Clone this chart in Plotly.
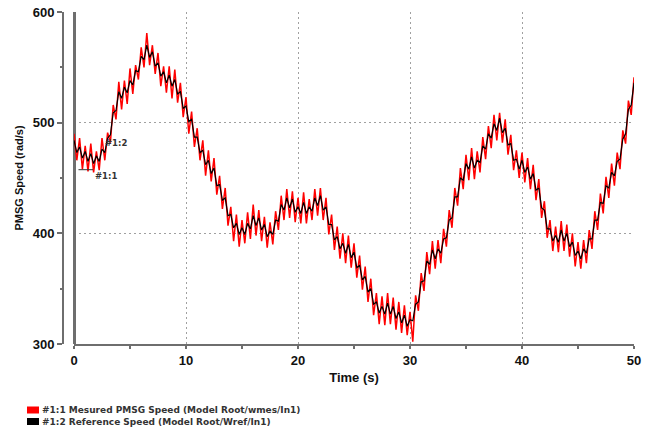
import numpy as np
import plotly.graph_objects as go

# Time grid (s), 0.25 s sampling
time_s = np.linspace(0, 50, 201)

# Reference speed (black), rad/s
ref_speed = [
    484, 473, 478, 468, 474, 465, 472, 463, 470, 465, 476, 473, 486, 489, 509, 511,
    528, 522, 532, 527, 538, 534, 547, 546, 560, 557, 570, 559, 564, 551, 554, 542,
    546, 536, 543, 533, 539, 526, 528, 513, 515, 501, 503, 487, 487, 473, 475, 462,
    466, 454, 459, 443, 444, 430, 432, 416, 417, 405, 409, 399, 405, 399, 409, 404,
    416, 407, 414, 403, 408, 397, 402, 399, 412, 411, 426, 421, 432, 423, 431, 419,
    424, 418, 428, 418, 424, 420, 432, 425, 434, 421, 424, 408, 408, 394, 397, 386,
    391, 382, 390, 378, 383, 369, 371, 358, 361, 347, 350, 336, 338, 328, 334, 327,
    337, 327, 334, 323, 329, 319, 326, 316, 322, 321, 336, 338, 356, 357, 375, 372,
    385, 377, 386, 382, 395, 396, 412, 414, 433, 433, 450, 448, 463, 458, 469, 459,
    466, 464, 479, 476, 490, 486, 499, 493, 504, 491, 495, 480, 481, 466, 467, 458,
    466, 455, 460, 449, 454, 439, 441, 423, 421, 404, 404, 393, 398, 392, 403, 393,
    400, 388, 392, 380, 384, 377, 386, 382, 395, 395, 412, 412, 428, 427, 443, 441,
    455, 452, 465, 467, 485, 490, 512, 516, 536,
]

# Measured PMSG speed (red), rad/s
meas_speed = [
    490, 466, 486, 458, 479, 456, 481, 455, 474, 457, 486, 466, 491, 482, 516, 503,
    537, 512, 538, 517, 549, 526, 552, 539, 568, 550, 581, 552, 570, 544, 563, 533,
    551, 527, 551, 522, 548, 518, 536, 505, 523, 490, 510, 478, 495, 466, 484, 452,
    475, 447, 468, 435, 452, 422, 441, 407, 424, 393, 417, 388, 412, 391, 419, 395,
    426, 398, 421, 393, 415, 387, 410, 390, 420, 403, 434, 412, 440, 414, 438, 410,
    432, 409, 437, 409, 431, 412, 440, 416, 441, 412, 432, 399, 417, 385, 406, 377,
    400, 373, 398, 369, 391, 360, 380, 349, 370, 338, 359, 326, 346, 318, 343, 317,
    346, 318, 342, 313, 338, 310, 335, 308, 329, 302, 344, 330, 364, 348, 383, 363,
    393, 368, 394, 373, 404, 388, 421, 405, 441, 425, 459, 440, 471, 448, 477, 449,
    474, 455, 487, 467, 497, 477, 507, 484, 509, 482, 503, 471, 489, 457, 475, 450,
    473, 446, 468, 440, 462, 430, 449, 414, 429, 396, 412, 384, 406, 383, 411, 384,
    408, 379, 400, 370, 392, 368, 394, 373, 403, 386, 420, 403, 436, 418, 451, 432,
    463, 443, 473, 458, 493, 481, 520, 507, 541,
]

x_ticks = [0, 10, 20, 30, 40, 50]
y_ticks = [300, 400, 500, 600]

legend_labels = [
    "#1:1 Mesured PMSG Speed (Model Root/wmes/In1)",
    "#1:2 Reference Speed (Model Root/Wref/In1)",
]
legend_colors = ["#ff0000", "#000000"]

FONT = "Liberation Sans, Arial, sans-serif"
SMALL_FONT = "DejaVu Sans, Verdana, sans-serif"
AX = "#6e6e6e"
GRID = "#a0a0a0"

fig = go.Figure()
fig.add_trace(go.Scatter(x=time_s, y=meas_speed, mode="lines",
                         line=dict(color="#ff0000", width=1.5), showlegend=False))
fig.add_trace(go.Scatter(x=time_s, y=ref_speed, mode="lines",
                         line=dict(color="#000000", width=1.2), showlegend=False))

# page body adds an 8px offset; figure is sized/placed to compensate
OFF = 8
W, H = 650 - OFF, 429 - OFF
ml, mr, mt, mb = 63 - OFF, 16, 12 - OFF, 85
pw = W - ml - mr
ph = H - mt - mb
x0_frac = 11 / pw

fig.update_layout(
    width=W, height=H,
    margin=dict(l=ml, r=mr, t=mt, b=mb),
    paper_bgcolor="white", plot_bgcolor="white",
    font=dict(family=FONT, color="#222"),
    xaxis=dict(
        domain=[x0_frac, 1], range=[0, 50], automargin=False,
        tickvals=x_ticks, ticktext=[str(v) for v in x_ticks],
        tickfont=dict(size=13, weight="bold", color="#111"),
        ticklabeloverflow="allow",
        showline=True, linecolor=AX, linewidth=2,
        ticks="outside", ticklen=3, tickwidth=2, tickcolor=AX,
        minor=dict(dtick=5, ticks="outside", ticklen=3, tickwidth=2, tickcolor=AX, showgrid=False),
        showgrid=True, gridcolor=GRID, griddash="2px,3px", gridwidth=1,
        zeroline=True, zerolinecolor=AX, zerolinewidth=2.5,
        title=dict(text="Time (s)", font=dict(size=13, weight="bold", color="#111"), standoff=6),
    ),
    yaxis=dict(
        anchor="free", position=0, range=[300, 600], automargin=False,
        tickvals=y_ticks, ticktext=[str(v) for v in y_ticks],
        tickfont=dict(size=13, weight="bold", color="#111"),
        ticklabeloverflow="allow",
        showline=True, linecolor=AX, linewidth=2,
        ticks="outside", ticklen=5, tickwidth=2, tickcolor=AX,
        minor=dict(dtick=50, ticks="outside", ticklen=2, tickwidth=2, tickcolor=AX, showgrid=False),
        showgrid=True, gridcolor=GRID, griddash="2px,3px", gridwidth=1,
        zeroline=False,
        title=dict(text="PMSG Speed (rad/s)", font=dict(size=11, weight="bold", color="#111"), standoff=6),
    ),
)

# curve labels
fig.add_annotation(x=2.6, y=482, text="<b>#1:2</b>", showarrow=False, xanchor="left",
                   font=dict(size=8.5, color="#333", family=SMALL_FONT))
fig.add_annotation(x=1.7, y=452, text="<b>#1:1</b>", showarrow=False, xanchor="left",
                   font=dict(size=8.5, color="#333", family=SMALL_FONT))
fig.add_shape(type="line", x0=0.4, x1=1.7, y0=457.5, y1=457.5, line=dict(color="#333", width=1))

# legend (bottom-left); yc values are target screen pixels
for i, (lab, col) in enumerate(zip(legend_labels, legend_colors)):
    yc = 410 + 11.5 * i - OFF
    fig.add_shape(type="rect", xref="paper", yref="paper",
                  x0=(27 - OFF - ml) / pw, x1=(39 - OFF - ml) / pw,
                  y0=(H - mb - (yc + 3.5)) / ph, y1=(H - mb - (yc - 3.5)) / ph,
                  fillcolor=col, line=dict(width=0))
    fig.add_annotation(xref="paper", yref="paper", x=(40 - OFF - ml) / pw,
                       y=(H - mb - yc) / ph, text="<b>" + lab + "</b>",
                       showarrow=False, xanchor="left", yanchor="middle",
                       font=dict(size=9, color="#333", family=SMALL_FONT))

fig.write_html("out.html")
